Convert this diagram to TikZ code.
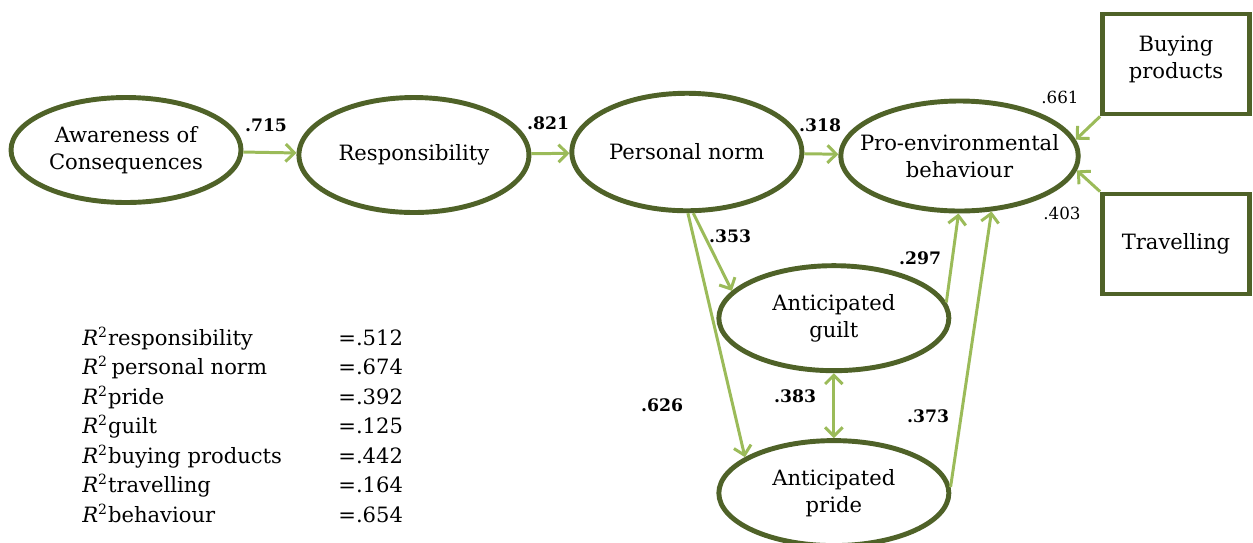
\documentclass[tikz,border=0pt]{standalone}
\usepackage{fontspec}
\setmainfont{DejaVu Serif}
\usetikzlibrary{arrows.meta,shapes.geometric,positioning}
\definecolor{olivedark}{HTML}{4F6228}
\definecolor{olivelight}{HTML}{9BBB59}
\tikzset{
  construct/.style={draw=olivedark, line width=2.8pt, ellipse, align=center, inner xsep=-0.4cm, inner ysep=0pt,
    minimum width=4.6cm, minimum height=2.1cm, font=\fontsize{12}{15.5}\selectfont},
  indicator/.style={draw=olivedark, line width=2.8pt, rectangle, align=center, inner sep=0pt,
    minimum width=2.94cm, minimum height=2.0cm, font=\fontsize{12}{15.5}\selectfont},
  link/.style={draw=olivelight, line width=1.7pt, ->, >={Straight Barb[length=5pt,width=10pt]}},
  coef/.style={font=\fontsize{9.8}{11}\selectfont\bfseries},
  loading/.style={font=\fontsize{9.5}{11}\selectfont},
  rsq/.style={anchor=base west, inner sep=0pt, font=\fontsize{12}{14}\selectfont}
}
\begin{document}
\begin{tikzpicture}
        \useasboundingbox (0,0) rectangle (25.06,-10.84);
        \draw node[construct] at (2.52,-3.0) (aware) {Awareness of\\Consequences};
        \draw node[construct, minimum height=2.3cm, right = 1.06cm of aware, yshift=-0.1cm] (resp) {Responsibility};
        \draw node[construct, minimum height=2.35cm, right = 0.76cm of resp, yshift=0.06cm] (pnorm) {Personal norm};
        \draw node[construct, minimum width=4.75cm, minimum height=2.2cm, right = 0.68cm of pnorm, yshift=-0.08cm] (pe) {Pro-environmental\\behaviour};
        \draw node[construct, below = 1.0cm of pnorm, xshift=2.94cm] (guilt) {Anticipated\\guilt};
        \draw node[construct, below = 1.3cm of guilt] (pride) {Anticipated\\pride};
        \draw node[indicator] at (23.52,-1.28) (buy) {Buying\\products\\[-0.28cm]};
        \draw node[indicator] at (23.52,-4.88) (travel) {Travelling};
        \draw (aware) edge[link] (resp);
        \draw (resp) edge[link] (pnorm);
        \draw (pnorm) edge[link] (pe);
        \draw (buy.south west) edge[link] (pe.8);
        \draw (travel.north west) edge[link] (pe.-7);
        \draw (pnorm.-84) edge[link] (guilt.165);
        \draw (pnorm.-89) edge[link] (pride.158);
        \draw (guilt.8) edge[link] (pe.-91);
        \draw (pride.3) edge[link] (pe.-60);
        \draw (guilt) edge[link,<->] (pride);
        % path coefficients
        \node[coef] (c715) at (5.32,-2.5) {.715};
        \node[coef] (c821) at (10.96,-2.46) {.821};
        \node[coef] (c318) at (16.4,-2.5) {.318};
        \node[coef] (c353) at (14.6,-4.72) {.353};
        \node[coef] (c297) at (18.4,-5.16) {.297};
        \node[coef] (c626) at (13.24,-8.1) {.626};
        \node[coef] (c383) at (15.9,-7.92) {.383};
        \node[coef] (c373) at (18.56,-8.32) {.373};
        \node[loading] (l661) at (21.2,-1.94) {.661};
        \node[loading] (l403) at (21.24,-4.26) {.403};
        % explained variance
        \foreach \lbl/\val [count=\i] in {responsibility/.512, {\,personal norm}/.674, pride/.392, guilt/.125,
            buying products/.442, travelling/.164, behaviour/.654} {
          \node[rsq] (rl\i) at (1.64,-6.9-0.59*\i+0.59) {\textit{R}\textsuperscript{2}\lbl};
          \node[rsq] (rv\i) at (6.76,-6.9-0.59*\i+0.59) {=\val};
        }
      \end{tikzpicture}
\end{document}
